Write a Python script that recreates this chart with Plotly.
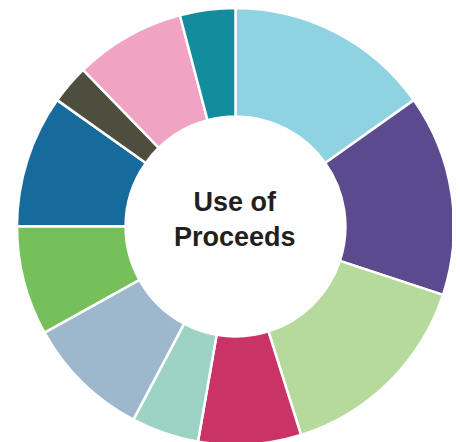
import plotly.graph_objects as go

categories = ["A", "B", "C", "D", "E", "F", "G", "H", "I", "J", "K"]
values = [15.2, 14.9, 15.1, 7.6, 5.0, 9.2, 8.1, 9.8, 2.9, 8.2, 4.1]
colors = ["#8fd3e3", "#5c4a8e", "#b5da9b", "#ca3366", "#9dd3c5", "#9db7cd",
          "#76c05b", "#176a9c", "#4d4e3e", "#f1a3c3", "#138c9e"]
center_text = "Use of<br>Proceeds"

fig = go.Figure(go.Pie(
    labels=categories,
    values=values,
    hole=0.503,
    sort=False,
    direction="clockwise",
    rotation=0,
    marker=dict(colors=colors, line=dict(color="white", width=2.5)),
    textinfo="none",
    hoverinfo="label+percent",
    showlegend=False,
))

fig.add_annotation(
    text="<b>" + center_text + "</b>",
    x=0.499, y=0.515, xref="paper", yref="paper",
    xanchor="center", yanchor="middle",
    showarrow=False,
    font=dict(family="Liberation Sans, Arial, sans-serif", size=27, color="#231f20"),
)

fig.update_layout(
    width=460, height=437,
    margin=dict(l=9, r=14, t=0, b=0),
    paper_bgcolor="white",
    plot_bgcolor="white",
)

fig.write_html("out.html")
